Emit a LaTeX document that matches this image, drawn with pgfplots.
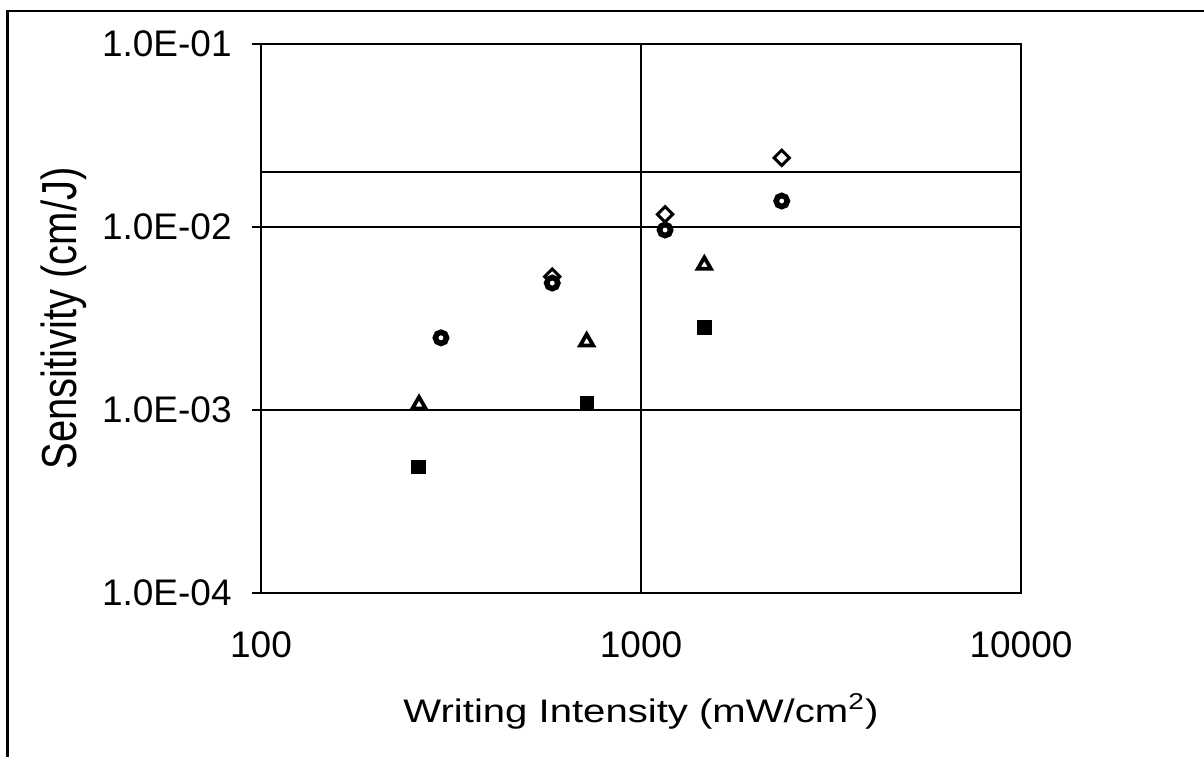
\documentclass[border=0pt]{standalone}
\usepackage{pgfplots}
\pgfplotsset{compat=1.18}
\usepackage{fontspec}
\setmainfont{Liberation Sans}
\usepackage{graphicx}
\begin{document}
\begin{tikzpicture}
\useasboundingbox (0,0) rectangle (602pt,378.5pt);
\draw[line width=1.1pt] (3.75pt,0) -- (3.75pt,373pt) -- (602pt,373pt);
\begin{axis}[
  at={(130.5pt,82pt)}, anchor=south west,
  scale only axis, width=380pt, height=274.5pt,
  xmode=log, ymode=log,
  xmin=100, xmax=10000, ymin=1e-4, ymax=1e-1,
  xtick={100,1000,10000}, xticklabels={100,1000,10000},
  ytick={1e-4,1e-3,1e-2,1e-1},
  yticklabels={1.0E-04,1.0E-03,1.0E-02,1.0E-01},
  minor tick style={draw=none},
  grid=major,
  major grid style={black, line width=1pt},
  axis line style={line width=1.3pt},
  tick align=outside,
  xtick pos=bottom, ytick pos=left,
  major tick length=4.5pt,
  x tick style={draw=none},
  y tick style={black, line width=1pt},
  extra y ticks={0.02}, extra y tick labels={},
  extra y tick style={grid=major, y tick style={draw=none}},
  xticklabel style={font=\fontsize{18.5}{20}\selectfont, anchor=north, inner sep=0pt, yshift=-14.5pt},
  yticklabel style={font=\fontsize{18.5}{20}\selectfont, anchor=east, inner sep=0pt, xshift=-10pt},
  xlabel={\scalebox{1.23}[1]{Writing Intensity (mW/cm\textsuperscript{2})}},
  xlabel style={font=\fontsize{16.3}{18}\selectfont, at={(axis description cs:0.5,0)}, anchor=base, yshift=-64.5pt},
  ylabel={\scalebox{1}[1.23]{Sensitivity (cm/J)}},
  ylabel style={font=\fontsize{20}{22}\selectfont, at={(axis description cs:-0.2434,0.5)}, anchor=base, rotate=0},
  clip=false,
]
% open diamonds
\addplot[only marks, mark=square*, mark size=2.7pt, mark options={rotate=45, fill=white, draw=black, line width=1.5pt}]
  coordinates {(584,5.35e-3) (1157,1.173e-2) (2346,2.39e-2)};
% ringed circles
\addplot[only marks, mark=*, mark size=2.8pt, mark options={fill=white, draw=black, line width=2.8pt}]
  coordinates {(297.6,2.48e-3) (584,4.94e-3) (1157,9.63e-3) (2346,1.387e-2)};
% open triangles
\addplot[only marks, mark=triangle*, mark size=3.8pt, mark options={fill=white, draw=black, line width=1.9pt}]
  coordinates {(260.5,1.07e-3) (719.6,2.36e-3) (1468,6.2e-3)};
% filled squares
\addplot[only marks, mark=square*, mark size=3.3pt, mark options={fill=black, draw=black, line width=0.6pt}]
  coordinates {(259.9,4.9e-4) (720,1.09e-3) (1468,2.82e-3)};
\end{axis}
\end{tikzpicture}
\end{document}
